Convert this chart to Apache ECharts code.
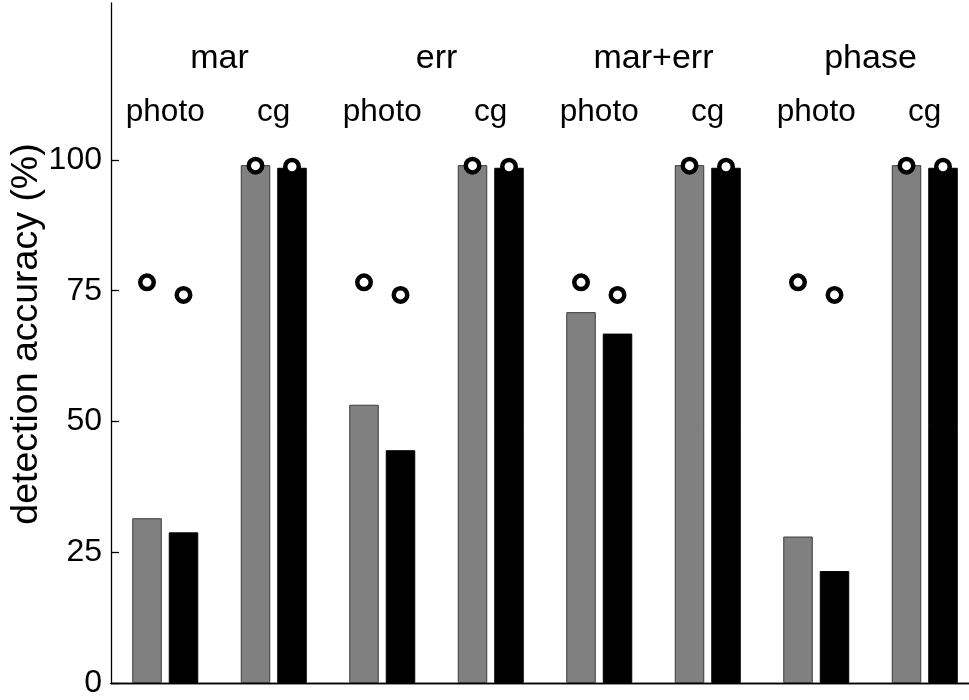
<!DOCTYPE html>
<html>
<head>
<meta charset="utf-8">
<script src="https://cdn.jsdelivr.net/npm/echarts@6/dist/echarts.min.js"></script>
<style>
  html, body { margin: 0; padding: 0; background: #fff; }
  #chart { width: 969px; height: 700px; }
</style>
</head>
<body>
<div id="chart"></div>
<script>
// Feature sets and the two image classes tested for each
const groups = ['mar', 'err', 'mar+err', 'phase'];
const classes = ['photo', 'cg', 'photo', 'cg', 'photo', 'cg', 'photo', 'cg'];

// Detection accuracy (%) of the two classifiers, per class
const barsGray  = [31.5, 99.0, 53.2, 99.0, 70.9, 99.0, 28.0, 99.0];
const barsBlack = [28.8, 98.5, 44.5, 98.5, 66.8, 98.5, 21.4, 98.5];

// Reference accuracy markers (circles) for the same classes
const circlesGray  = [76.6, 98.9, 76.6, 98.9, 76.6, 98.9, 76.6, 98.9];
const circlesBlack = [74.2, 98.7, 74.2, 98.7, 74.2, 98.7, 74.2, 98.7];

// Y axis ticks
const yTicks = [0, 25, 50, 75, 100];

const FONT = '"Liberation Sans", Arial, Helvetica, sans-serif';
const chart = echarts.init(document.getElementById('chart'), null, { renderer: 'canvas' });

const barW = 29.5;
const gapPx = 7;

chart.setOption({
  animation: false,
  backgroundColor: '#fff',
  textStyle: { fontFamily: FONT, color: '#000' },
  grid: {
    left: 111, top: 3, width: 868, height: 680,
    containLabel: false, outerBoundsMode: 'none'
  },
  xAxis: [
    {
      type: 'category', data: classes, position: 'bottom',
      axisLine: { lineStyle: { color: '#000', width: 1.3 } },
      axisTick: { show: false }, axisLabel: { show: false }, splitLine: { show: false }
    },
    {
      type: 'category', data: classes, position: 'top',
      axisLine: { lineStyle: { color: '#000', width: 1.3 } },
      axisTick: { show: false }, splitLine: { show: false },
      axisLabel: {
        inside: true, margin: 109, verticalAlign: 'middle',
        fontSize: 31.5, color: '#000', fontFamily: FONT, interval: 0
      }
    },
    {
      type: 'category', data: groups, position: 'top',
      axisLine: { show: false }, axisTick: { show: false }, splitLine: { show: false },
      axisLabel: {
        inside: true, margin: 56, verticalAlign: 'middle',
        fontSize: 34, color: '#000', fontFamily: FONT, interval: 0
      }
    }
  ],
  yAxis: [
    {
      type: 'value', min: 0, max: 130, position: 'left',
      name: 'detection accuracy (%)', nameLocation: 'middle', nameGap: 65,
      nameMoveOverlap: false,
      nameTextStyle: { fontSize: 37.5, color: '#000', fontFamily: FONT, padding: [0, 0, 0, 18] },
      axisLine: { show: true, lineStyle: { color: '#000', width: 1.3 } },
      axisTick: { show: true, inside: true, length: 8, customValues: yTicks, lineStyle: { color: '#000', width: 1.3 } },
      axisLabel: { customValues: yTicks, fontSize: 32, color: '#000', fontFamily: FONT, margin: 9 },
      splitLine: { show: false }
    },
    {
      type: 'value', min: 0, max: 130, position: 'right',
      axisLine: { show: true, lineStyle: { color: '#000', width: 1.3 } },
      axisTick: { show: true, inside: true, length: 10, customValues: yTicks, lineStyle: { color: '#000', width: 1.3 } },
      axisLabel: { show: false }, splitLine: { show: false }
    }
  ],
  series: [
    {
      type: 'bar', data: barsGray, barWidth: barW, barGap: (gapPx / barW * 100) + '%',
      itemStyle: { color: '#808080', borderColor: '#3a3a3a', borderWidth: 1 }
    },
    {
      type: 'bar', data: barsBlack, barWidth: barW,
      itemStyle: { color: '#000', borderColor: '#000', borderWidth: 1 }
    },
    {
      type: 'scatter', data: circlesGray, symbol: 'circle', symbolSize: 13.5,
      symbolOffset: [-(barW + gapPx) / 2, 0], z: 5,
      itemStyle: { color: '#fff', borderColor: '#000', borderWidth: 4.5, opacity: 1 }
    },
    {
      type: 'scatter', data: circlesBlack, symbol: 'circle', symbolSize: 13.5,
      symbolOffset: [(barW + gapPx) / 2, 0], z: 5,
      itemStyle: { color: '#fff', borderColor: '#000', borderWidth: 4.5, opacity: 1 }
    }
  ]
});
</script>
</body>
</html>
